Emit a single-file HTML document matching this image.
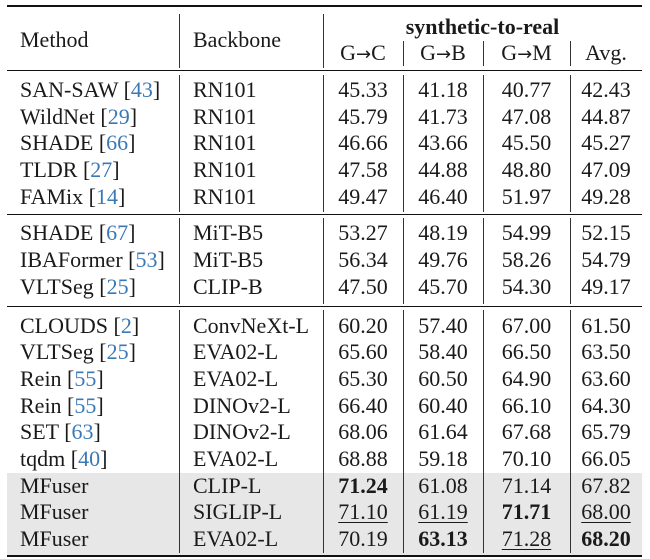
<!DOCTYPE html>
<html><head><meta charset="utf-8"><style>
body{margin:0;width:650px;height:559px;background:#fff;position:relative;overflow:hidden;font-family:"Liberation Serif",serif;font-size:22px;color:#1a1a1a}
.t{position:absolute;height:26px;line-height:26px;white-space:nowrap}
.c{text-align:center;width:80px}
.h{position:absolute;background:#111}
.v{position:absolute;width:1px;background:#333}
.b{color:#3a78b8}
.a{font-family:"DejaVu Sans",sans-serif;font-size:18px}
.g{position:absolute;left:7px;width:635px;background:#e7e7e7}
u{text-decoration-thickness:1px;text-underline-offset:3px}
</style></head><body>
<div class="g" style="top:473px;height:82px"></div>
<div class="h" style="left:7px;width:635px;top:5px;height:2px"></div>
<div class="h" style="left:7px;width:635px;top:70px;height:1px"></div>
<div class="h" style="left:7px;width:635px;top:214px;height:1px"></div>
<div class="h" style="left:7px;width:635px;top:306px;height:1px"></div>
<div class="h" style="left:7px;width:635px;top:555px;height:2px"></div>

<div class="v" style="left:179px;top:14px;height:54px"></div>
<div class="v" style="left:323px;top:14px;height:54px"></div>
<div class="v" style="left:403px;top:41px;height:25px"></div>
<div class="v" style="left:483px;top:41px;height:25px"></div>
<div class="v" style="left:570px;top:41px;height:25px"></div>

<div class="t" style="left:20px;top:27px">Method</div>
<div class="t" style="left:193px;top:27px">Backbone</div>
<div class="t" style="left:323px;width:319px;text-align:center;top:14px;font-weight:bold">synthetic-to-real</div>
<div class="t c" style="left:323px;top:40px">G<span class="a">→</span>C</div>
<div class="t c" style="left:403px;top:40px">G<span class="a">→</span>B</div>
<div class="t" style="left:483px;width:87px;text-align:center;top:40px">G<span class="a">→</span>M</div>
<div class="t" style="left:570px;width:72px;text-align:center;top:40px">Avg.</div>

<div id="body"></div>
<script>
var segs=[[75,212],[218,304],[310,553]];
var xs=[179,323,403,483,570];
var html='';
segs.forEach(function(s){xs.forEach(function(x){html+='<div class="v" style="left:'+x+'px;top:'+s[0]+'px;height:'+(s[1]-s[0])+'px"></div>';});});
var rows=[
["SAN-SAW ","43","RN101","45.33","41.18","40.77","42.43"],
["WildNet ","29","RN101","45.79","41.73","47.08","44.87"],
["SHADE ","66","RN101","46.66","43.66","45.50","45.27"],
["TLDR ","27","RN101","47.58","44.88","48.80","47.09"],
["FAMix ","14","RN101","49.47","46.40","51.97","49.28"],
["SHADE ","67","MiT-B5","53.27","48.19","54.99","52.15"],
["IBAFormer ","53","MiT-B5","56.34","49.76","58.26","54.79"],
["VLTSeg ","25","CLIP-B","47.50","45.70","54.30","49.17"],
["CLOUDS ","2","ConvNeXt-L","60.20","57.40","67.00","61.50"],
["VLTSeg ","25","EVA02-L","65.60","58.40","66.50","63.50"],
["Rein ","55","EVA02-L","65.30","60.50","64.90","63.60"],
["Rein ","55","DINOv2-L","66.40","60.40","66.10","64.30"],
["SET ","63","DINOv2-L","68.06","61.64","67.68","65.79"],
["tqdm ","40","EVA02-L","68.88","59.18","70.10","66.05"],
["MFuser","","CLIP-L","<b>71.24</b>","61.08","71.14","67.82"],
["MFuser","","SIGLIP-L","<u>71.10</u>","<u>61.19</u>","<b>71.71</b>","<u>68.00</u>"],
["MFuser","","EVA02-L","70.19","<b>63.13</b>","<u>71.28</u>","<b>68.20</b>"]];
var ys=[90,116.7,143.4,170,196.8,233,260,287];
for(var k=0;k<9;k++)ys.push(325.5+k*26.7);
var cx=[[323,80],[403,80],[483,87],[570,72]];
rows.forEach(function(r,i){
 var t=ys[i]-13;
 var m=r[0]+(r[1]?'[<span class="b">'+r[1]+'</span>]':'');
 html+='<div class="t" style="left:20px;top:'+t+'px">'+m+'</div>';
 html+='<div class="t" style="left:193px;top:'+t+'px">'+r[2]+'</div>';
 for(var j=0;j<4;j++)html+='<div class="t" style="left:'+cx[j][0]+'px;width:'+cx[j][1]+'px;text-align:center;top:'+t+'px">'+r[3+j]+'</div>';
});
document.getElementById('body').innerHTML=html;
</script>
</body></html>
